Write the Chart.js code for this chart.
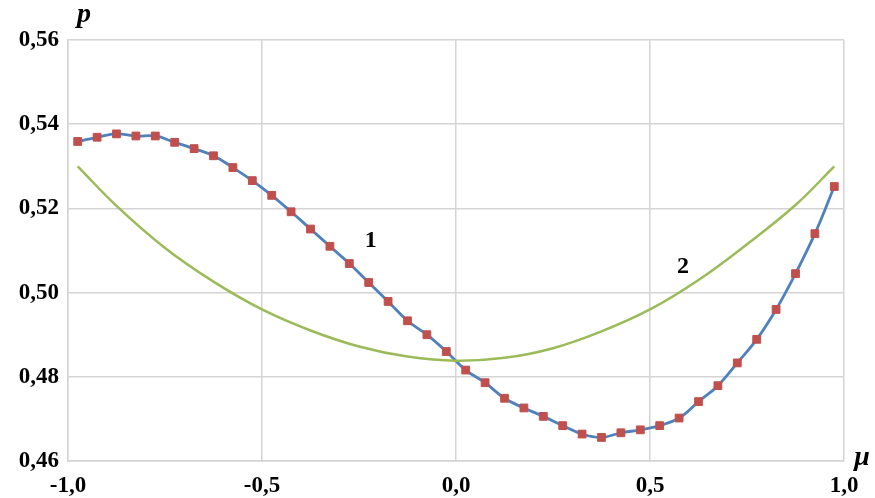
<!DOCTYPE html>
<html lang="ru">
<head>
  <meta charset="utf-8">
  <title>p(mu)</title>
  <script src="https://cdn.jsdelivr.net/npm/chart.js@4/dist/chart.umd.min.js"></script>
  <style>
    html, body { margin: 0; padding: 0; background: #fff; }
    #holder { width: 875px; height: 498px; }
  </style>
</head>
<body>
<div id="holder"><canvas id="chart"></canvas></div>
<script>
  // curve 1 (markers + smoothed line)
  var mu1 = [-0.975, -0.925, -0.875, -0.825, -0.775, -0.725, -0.675, -0.625, -0.575, -0.525,
             -0.475, -0.425, -0.375, -0.325, -0.275, -0.225, -0.175, -0.125, -0.075, -0.025,
              0.025,  0.075,  0.125,  0.175,  0.225,  0.275,  0.325,  0.375,  0.425,  0.475,
              0.525,  0.575,  0.625,  0.675,  0.725,  0.775,  0.825,  0.875,  0.925,  0.975];
  var p1 = [0.5359, 0.5369, 0.5377, 0.5372, 0.5372, 0.5357, 0.5342, 0.5325, 0.5297, 0.5266,
            0.5231, 0.5192, 0.5151, 0.5110, 0.5069, 0.5024, 0.4979, 0.4933, 0.4900, 0.4860,
            0.4816, 0.4786, 0.4749, 0.4726, 0.4706, 0.4684, 0.4664, 0.4656, 0.4667, 0.4674,
            0.4684, 0.4702, 0.4741, 0.4779, 0.4833, 0.4889, 0.4960, 0.5045, 0.5140, 0.5252];

  // curve 2 (plain line)
  var mu2 = [-0.975, -0.875, -0.75, -0.625, -0.5, -0.375, -0.25, -0.125, 0,
              0.125,  0.25,  0.375, 0.5,  0.625, 0.75,  0.875, 0.975];
  var p2 = [0.5300, 0.5206, 0.5106, 0.5026, 0.4960, 0.4910, 0.4872, 0.4848, 0.4838,
            0.4845, 0.4868, 0.4908, 0.4960, 0.5030, 0.5115, 0.5208, 0.5300];

  var xTicks = [-1.0, -0.5, 0.0, 0.5, 1.0];
  var yTicks = [0.46, 0.48, 0.50, 0.52, 0.54, 0.56];

  // curve captions, in data coordinates
  var captions = [
    { text: '1', x: -0.22, y: 0.5124 },
    { text: '2', x: 0.585, y: 0.5062 }
  ];

  function pts(xs, ys) {
    return xs.map(function (x, i) { return { x: x, y: ys[i] }; });
  }
  function comma(v, digits) {
    return v.toFixed(digits).replace('.', ',');
  }

  var serif = "'Liberation Serif', 'DejaVu Serif', serif";
  var gridColor = '#d4d4d4';

  var textPlugin = {
    id: 'texts',
    afterDatasetsDraw: function (chart) {
      var ctx = chart.ctx;
      var xs = chart.scales.x, ys = chart.scales.y, a = chart.chartArea;
      ctx.save();
      ctx.fillStyle = '#000';
      ctx.textAlign = 'center';
      ctx.textBaseline = 'middle';
      ctx.font = 'bold 24px ' + serif;
      captions.forEach(function (c) {
        ctx.fillText(c.text, xs.getPixelForValue(c.x), ys.getPixelForValue(c.y));
      });
      ctx.font = 'italic bold 28px ' + serif;
      ctx.fillText('p', a.left + 16, a.top - 25);
      ctx.fillText('\u03bc', a.right + 18, a.bottom - 3);
      ctx.restore();
    }
  };

  new Chart(document.getElementById('chart'), {
    type: 'scatter',
    data: {
      datasets: [{
        label: '2',
        data: pts(mu2, p2),
        showLine: true,
        borderColor: '#9bbb59',
        borderWidth: 2.5,
        pointRadius: 0,
        tension: 0.4
      }, {
        label: '1',
        data: pts(mu1, p1),
        showLine: true,
        borderColor: '#4f81bd',
        borderWidth: 2.8,
        pointStyle: 'rect',
        pointRadius: 5.5,
        pointBackgroundColor: '#c0504d',
        pointBorderColor: '#c0504d',
        pointBorderWidth: 1,
        tension: 0.4
      }]
    },
    options: {
      responsive: true,
      maintainAspectRatio: false,
      animation: false,
      layout: { padding: { top: 40, right: 31, left: 0, bottom: 0 } },
      plugins: {
        legend: { display: false },
        tooltip: { enabled: false }
      },
      scales: {
        x: {
          type: 'linear',
          min: -1, max: 1,
          afterFit: function (s) { s.height = 37; },
          afterBuildTicks: function (s) {
            s.ticks = xTicks.map(function (v) { return { value: v }; });
          },
          grid: { color: gridColor, lineWidth: 1.5, tickLength: 0 },
          border: { color: gridColor, width: 1.5 },
          ticks: {
            color: '#000',
            padding: 11,
            maxRotation: 0,
            font: { family: serif, size: 23, weight: 'bold' },
            callback: function (v) { return comma(v, 1); }
          }
        },
        y: {
          type: 'linear',
          min: 0.46, max: 0.56,
          afterFit: function (s) { s.width = 68; },
          afterBuildTicks: function (s) {
            s.ticks = yTicks.map(function (v) { return { value: v }; });
          },
          grid: { color: gridColor, lineWidth: 1.5, tickLength: 0 },
          border: { color: gridColor, width: 1.5 },
          ticks: {
            color: '#000',
            padding: 9,
            font: { family: serif, size: 23, weight: 'bold' },
            callback: function (v) { return comma(v, 2); }
          }
        }
      }
    },
    plugins: [textPlugin]
  });
</script>
</body>
</html>
